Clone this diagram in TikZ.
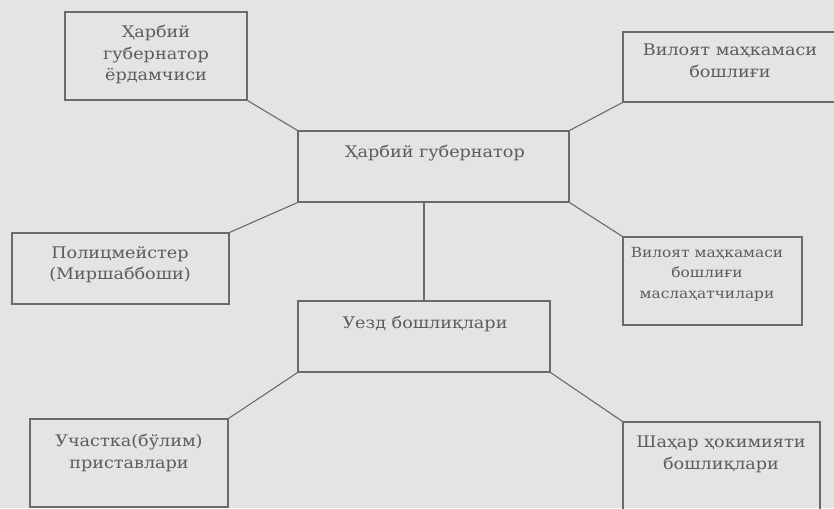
\documentclass[tikz,border=0pt]{standalone}
\usepackage{fontspec}
\setmainfont{DejaVu Serif}[FakeStretch=1.1]
\definecolor{bg}{HTML}{E4E4E4}
\definecolor{ink}{HTML}{5C5C5C}
\definecolor{edge}{HTML}{6A6A6A}
\tikzset{
  box/.style={draw=edge, line width=1.1pt, rectangle, inner sep=0pt},
  lbl/.style={text=ink, anchor=north, align=center, inner sep=0pt, font=\fontsize{16}{21.5}\selectfont},
  lblsmall/.style={lbl, font=\fontsize{14}{20.5}\selectfont},
  conn/.style={draw=edge, line width=1.1pt}
}
\begin{document}
\begin{tikzpicture}[x=1pt,y=-1pt]
\useasboundingbox (0,0) rectangle (834,508);
\fill[bg] (0,0) rectangle (834,508);
\clip (0,0) rectangle (834,508);
% boxes
\node[box, minimum width=182pt, minimum height=88pt] (tl) at (156,56) {};
\node[box, minimum width=271pt, minimum height=71pt] (c) at (433.5,166.5) {};
\node[box, minimum width=222pt, minimum height=70pt] (tr) at (734,67) {};
\node[box, minimum width=217pt, minimum height=71pt] (pol) at (120.5,268.5) {};
\node[box, minimum width=179pt, minimum height=88pt] (rv) at (712.5,281) {};
\node[box, minimum width=252pt, minimum height=71pt] (u) at (424,336.5) {};
\node[box, minimum width=198pt, minimum height=88pt] (bl) at (129,463) {};
\node[box, minimum width=197pt, minimum height=93pt] (br) at (721.5,468.5) {};
% labels
\node[lbl] (tlt) at (156,25) {Ҳарбий\\губернатор\\ёрдамчиси};
\node[lbl] (ct) at (435,145) {Ҳарбий губернатор};
\node[lbl] (trt) at (730,44) {Вилоят маҳкамаси\\бошлиғи};
\node[lbl] (polt) at (120,246) {Полицмейстер\\(Миршаббоши)};
\node[lblsmall] (rvt) at (707,247) {Вилоят маҳкамаси\\бошлиғи\\маслаҳатчилари};
\node[lbl] (ut) at (425,316) {Уезд бошлиқлари};
\node[lbl] (blt) at (129,434) {Участка(бўлим)\\приставлари};
\node[lbl] (brt) at (721,436) {Шаҳар ҳокимияти\\бошлиқлари};
% connectors
\draw[conn] (tl.south east) -- (c.north west);
\draw[conn] (c.north east) -- (tr.south west);
\draw[conn] (c.south west) -- (pol.north east);
\draw[conn] (c.south east) -- (rv.north west);
\draw[conn] (u.north) -- (u.north |- c.south);
\draw[conn] (u.south west) -- (bl.north east);
\draw[conn] (u.south east) -- (br.north west);
\end{tikzpicture}
\end{document}
